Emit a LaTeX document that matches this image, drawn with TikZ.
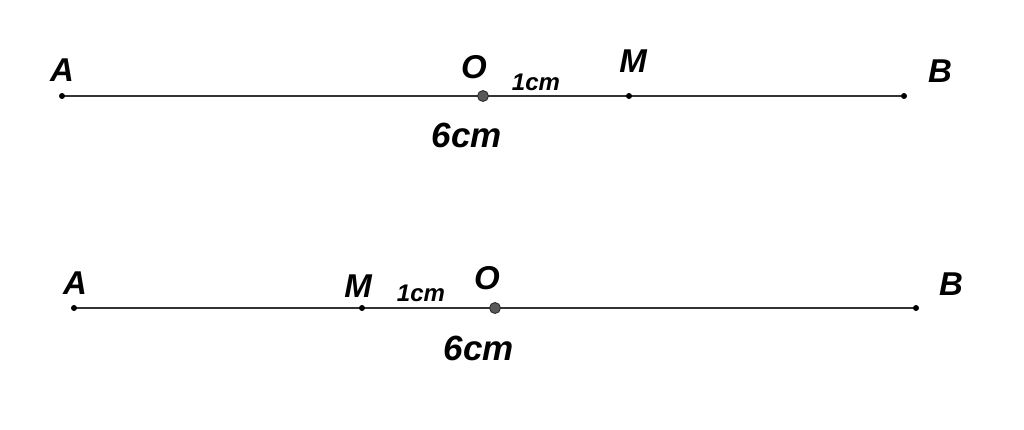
\documentclass[tikz,border=0pt]{standalone}
\usepackage{fontspec}
\setmainfont{Liberation Sans}
\begin{document}
\begin{tikzpicture}[x=1pt,y=-1pt,
  seg/.style={draw=black!80,line width=2.2pt},
  smalldot/.style={circle,fill=black,inner sep=0pt,minimum size=6pt},
  bigdot/.style={circle,fill=black!65,draw=black!85,line width=0.8pt,inner sep=0pt,minimum size=11pt},
  ptlabel/.style={inner sep=0pt,font=\fontsize{33}{36}\selectfont\bfseries\itshape},
  smalllabel/.style={inner sep=0pt,font=\fontsize{24}{26}\selectfont\bfseries\itshape},
  biglabel/.style={inner sep=0pt,font=\fontsize{35}{38}\selectfont\bfseries\itshape}]
\useasboundingbox[fill=white] (0,0) rectangle (1024,429);
% top line
\coordinate (A1) at (62,96);
\coordinate (O1) at (483,96);
\coordinate (M1) at (629,96);
\coordinate (B1) at (904,96);
\draw[seg] (A1) -- (B1);
\node[smalldot] (dA1) at (A1) {};
\node[smalldot] (dM1) at (M1) {};
\node[smalldot] (dB1) at (B1) {};
\node[bigdot] (dO1) at (O1) {};
\node[ptlabel] (lA1) at (62,70) {A};
\node[ptlabel] (lO1) at (474,67) {O};
\node[ptlabel] (lM1) at (633,61) {M};
\node[ptlabel] (lB1) at (940,71) {B};
\node[smalllabel] (l1cm1) at (536,82) {1cm};
\node[biglabel] (l6cm1) at (467,135) {6cm};
% bottom line
\coordinate (A2) at (74,308);
\coordinate (M2) at (362,308);
\coordinate (O2) at (495,308);
\coordinate (B2) at (916,308);
\draw[seg] (A2) -- (B2);
\node[smalldot] (dA2) at (A2) {};
\node[smalldot] (dM2) at (M2) {};
\node[smalldot] (dB2) at (B2) {};
\node[bigdot] (dO2) at (O2) {};
\node[ptlabel] (lA2) at (75,283) {A};
\node[ptlabel] (lM2) at (358,286) {M};
\node[ptlabel] (lO2) at (487,278) {O};
\node[ptlabel] (lB2) at (951,284) {B};
\node[smalllabel] (l1cm2) at (421,293) {1cm};
\node[biglabel] (l6cm2) at (479,348) {6cm};
\end{tikzpicture}
\end{document}
